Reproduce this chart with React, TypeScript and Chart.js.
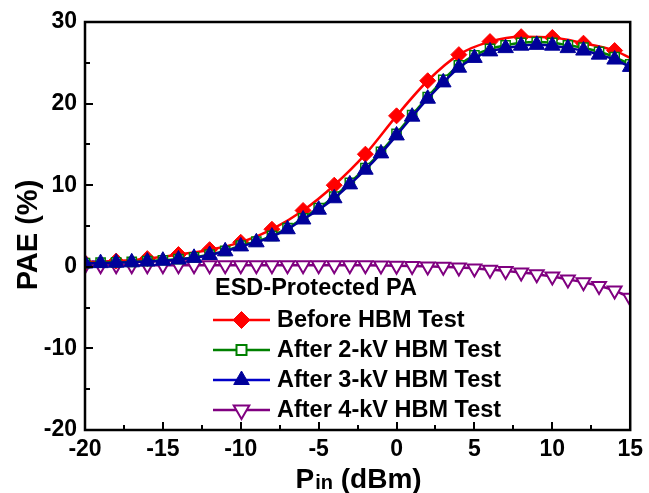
import React, { useEffect, useRef } from 'react';
import { Chart, registerables } from 'chart.js';

Chart.register(...registerables);

// Input power (dBm) for the densely sampled series
const pinDbm = [-20, -19, -18, -17, -16, -15, -14, -13, -12, -11, -10, -9, -8, -7, -6, -5, -4, -3, -2, -1, 0, 1, 2, 3, 4, 5, 6, 7, 8, 9, 10, 11, 12, 13, 14, 15];
// Input power for the "Before" series (markers every 2 dBm, line continues to 15)
const beforePin = [-20, -18, -16, -14, -12, -10, -8, -6, -4, -2, 0, 2, 4, 6, 8, 10, 12, 14, 15];

const beforeHbm = [0.5, 0.7, 1.0, 1.5, 2.1, 3.0, 4.6, 6.9, 10.0, 13.8, 18.5, 22.8, 26.0, 27.6, 28.2, 28.1, 27.4, 26.5, 25.6];
const after2kV = [0.45, 0.5, 0.55, 0.6, 0.7, 0.8, 0.95, 1.15, 1.5, 1.95, 2.6, 3.1, 3.8, 4.75, 5.95, 7.2, 8.6, 10.3, 12.1, 14.1, 16.3, 18.6, 20.8, 22.9, 24.7, 25.9, 26.7, 27.15, 27.45, 27.55, 27.45, 27.15, 26.85, 26.35, 25.7, 24.8];
const after3kV = [0.4, 0.45, 0.5, 0.55, 0.65, 0.75, 0.9, 1.1, 1.45, 1.9, 2.5, 3.0, 3.7, 4.6, 5.8, 7.0, 8.4, 10.1, 11.9, 13.9, 16.1, 18.4, 20.6, 22.6, 24.4, 25.6, 26.4, 26.8, 27.1, 27.2, 27.1, 26.8, 26.5, 26.0, 25.4, 24.5];
const after4kV = [0.15, 0.2, 0.2, 0.2, 0.2, 0.2, 0.2, 0.2, 0.2, 0.2, 0.2, 0.2, 0.2, 0.2, 0.2, 0.2, 0.2, 0.2, 0.18, 0.16, 0.14, 0.1, 0.05, 0.0, -0.1, -0.2, -0.35, -0.5, -0.7, -0.9, -1.2, -1.55, -1.9, -2.35, -2.9, -3.8];

const seriesNames = ['Before HBM Test', 'After 2-kV HBM Test', 'After 3-kV HBM Test', 'After 4-kV HBM Test'];
const legendTitle = 'ESD-Protected PA';
const yTitle = 'PAE (%)';
const xTitleMain = 'P';
const xTitleSub = 'in';
const xTitleUnit = ' (dBm)';

const X_MIN = -20, X_MAX = 15, X_STEP = 5;
const Y_MIN = -20, Y_MAX = 30, Y_STEP = 10;

const FONT = '"Liberation Sans", Arial, Helvetica, sans-serif';

const RED = '#ff0000';
const GREEN = '#008000';
const BLUE_LINE = '#0000c8';
const BLUE_FILL = '#00009a';
const PURPLE = '#800080';

type Shape = 'diamond' | 'square' | 'triangle' | 'down';

function drawMarker(ctx: CanvasRenderingContext2D, shape: Shape, x: number, y: number, r: number, fill: string, stroke: string, lw: number) {
  ctx.save();
  ctx.beginPath();
  if (shape === 'diamond') {
    ctx.moveTo(x - r, y); ctx.lineTo(x, y - r); ctx.lineTo(x + r, y); ctx.lineTo(x, y + r);
  } else if (shape === 'square') {
    ctx.rect(x - r, y - r, 2 * r, 2 * r);
  } else if (shape === 'triangle') {
    ctx.moveTo(x, y - r); ctx.lineTo(x + r * 0.866, y + r / 2); ctx.lineTo(x - r * 0.866, y + r / 2);
  } else {
    ctx.moveTo(x, y + r); ctx.lineTo(x + r * 0.866, y - r / 2); ctx.lineTo(x - r * 0.866, y - r / 2);
  }
  ctx.closePath();
  ctx.fillStyle = fill;
  ctx.fill();
  ctx.lineWidth = lw;
  ctx.strokeStyle = stroke;
  ctx.stroke();
  ctx.restore();
}

const framePlugin = {
  id: 'framePlugin',
  afterDatasetsDraw(chart: any) {
    const { ctx, chartArea: a, scales } = chart;
    const xs = scales.x, ys = scales.y;
    ctx.save();
    // inward tick marks on bottom and left axes
    ctx.strokeStyle = '#000';
    ctx.lineWidth = 2;
    const nx = Math.round((X_MAX - X_MIN) / (X_STEP / 2));
    for (let i = 0; i <= nx; i++) {
      const v = X_MIN + i * (X_STEP / 2);
      const px = Math.round(xs.getPixelForValue(v));
      const len = i % 2 === 0 ? 8 : 5;
      ctx.beginPath(); ctx.moveTo(px, a.bottom); ctx.lineTo(px, a.bottom - len); ctx.stroke();
    }
    const ny = Math.round((Y_MAX - Y_MIN) / (Y_STEP / 2));
    for (let i = 0; i <= ny; i++) {
      const v = Y_MIN + i * (Y_STEP / 2);
      const py = Math.round(ys.getPixelForValue(v));
      const len = i % 2 === 0 ? 8 : 5;
      ctx.beginPath(); ctx.moveTo(a.left, py); ctx.lineTo(a.left + len, py); ctx.stroke();
    }
    // frame
    ctx.lineWidth = 2.5;
    ctx.strokeRect(a.left, a.top, a.right - a.left, a.bottom - a.top);

    // axis titles
    ctx.fillStyle = '#000';
    ctx.font = `bold 29px ${FONT}`;
    ctx.textAlign = 'center';
    ctx.textBaseline = 'middle';
    ctx.save();
    ctx.translate(29, (a.top + a.bottom) / 2 + 9);
    ctx.rotate(-Math.PI / 2);
    ctx.fillText(yTitle, 0, 0);
    ctx.restore();

    ctx.textBaseline = 'alphabetic';
    ctx.textAlign = 'left';
    const bigFont = `bold 28px ${FONT}`;
    const smallFont = `bold 20px ${FONT}`;
    ctx.font = bigFont; const wP = ctx.measureText(xTitleMain).width; const wU = ctx.measureText(xTitleUnit).width;
    ctx.font = smallFont; const wS = ctx.measureText(xTitleSub).width;
    const total = wP + wS + 1 + wU;
    let tx = (a.left + a.right) / 2 + 1 - total / 2;
    const base = a.bottom + 58;
    ctx.font = bigFont; ctx.fillText(xTitleMain, tx, base); tx += wP + 1;
    ctx.font = smallFont; ctx.fillText(xTitleSub, tx, base + 1); tx += wS;
    ctx.font = bigFont; ctx.fillText(xTitleUnit, tx, base);

    // legend
    const lx = a.left + 128;
    ctx.font = `bold 23.5px ${FONT}`;
    ctx.textBaseline = 'middle';
    ctx.fillText(legendTitle, lx + 2, a.bottom - 141);
    const styles: { color: string; shape: Shape; r: number; fill: string; mcolor: string; lw: number }[] = [
      { color: RED, shape: 'diamond', r: 8.5, fill: RED, mcolor: RED, lw: 1 },
      { color: GREEN, shape: 'square', r: 5, fill: '#fff', mcolor: GREEN, lw: 2 },
      { color: BLUE_LINE, shape: 'triangle', r: 9, fill: BLUE_FILL, mcolor: BLUE_FILL, lw: 1 },
      { color: PURPLE, shape: 'down', r: 9, fill: '#fff', mcolor: PURPLE, lw: 2 },
    ];
    seriesNames.forEach((name, i) => {
      const y = a.bottom - 110 + i * 30;
      const s = styles[i];
      ctx.strokeStyle = s.color;
      ctx.lineWidth = 2.5;
      ctx.beginPath(); ctx.moveTo(lx, y); ctx.lineTo(lx + 57, y); ctx.stroke();
      drawMarker(ctx, s.shape, lx + 28.5, y, s.r, s.fill, s.mcolor, s.lw);
      ctx.fillStyle = '#000';
      ctx.font = `bold 23.5px ${FONT}`;
      ctx.textBaseline = 'middle';
      ctx.textAlign = 'left';
      ctx.fillText(name, lx + 64, y + 1);
    });
    ctx.restore();
  },
};

export default function App() {
  const ref = useRef<HTMLCanvasElement | null>(null);
  useEffect(() => {
    if (!ref.current) return;
    const toPts = (xs: number[], ys: number[]) => xs.map((x, i) => ({ x, y: ys[i] }));
    const chart = new Chart(ref.current, {
      type: 'line',
      data: {
        datasets: [
          {
            label: seriesNames[0],
            data: toPts(beforePin, beforeHbm),
            borderColor: RED,
            backgroundColor: RED,
            borderWidth: 2.5,
            pointStyle: 'rectRot',
            pointRadius: (c: any) => (c.raw && c.raw.x === X_MAX ? 0 : 8),
            pointBorderWidth: 1,
            pointBackgroundColor: RED,
            pointBorderColor: RED,
            cubicInterpolationMode: 'monotone',
            order: 3,
          },
          {
            label: seriesNames[1],
            data: toPts(pinDbm, after2kV),
            borderColor: GREEN,
            borderWidth: 2.5,
            pointStyle: 'rect',
            pointRadius: 6.5,
            pointBorderWidth: 1.5,
            pointBackgroundColor: '#fff',
            pointBorderColor: GREEN,
            cubicInterpolationMode: 'monotone',
            order: 2,
          },
          {
            label: seriesNames[2],
            data: toPts(pinDbm, after3kV),
            borderColor: BLUE_FILL,
            borderWidth: 2.5,
            pointStyle: 'triangle',
            pointRadius: 9,
            pointBorderWidth: 1,
            pointBackgroundColor: BLUE_FILL,
            pointBorderColor: BLUE_FILL,
            cubicInterpolationMode: 'monotone',
            order: 1,
          },
          {
            label: seriesNames[3],
            data: toPts(pinDbm, after4kV),
            borderColor: PURPLE,
            borderWidth: 2.5,
            pointStyle: 'triangle',
            rotation: 180,
            pointRotation: 180,
            pointRadius: 8,
            pointBorderWidth: 2,
            pointBackgroundColor: '#fff',
            pointBorderColor: PURPLE,
            cubicInterpolationMode: 'monotone',
            order: 4,
          },
        ] as any,
      },
      options: {
        animation: false,
        responsive: false,
        devicePixelRatio: 1,
        layout: { padding: { top: 22, right: 16, left: 0, bottom: 0 } },
        plugins: { legend: { display: false }, tooltip: { enabled: false } },
        scales: {
          x: {
            type: 'linear',
            min: X_MIN,
            max: X_MAX,
            grid: { display: false, drawTicks: false },
            border: { display: false },
            ticks: {
              stepSize: X_STEP,
              color: '#000',
              font: { family: FONT, size: 23, weight: 'bold' },
              padding: 6,
              maxRotation: 0,
              autoSkip: false,
              callback: (v: any) => String(v),
            },
            afterFit: (s: any) => { s.height = 63; },
          },
          y: {
            type: 'linear',
            min: Y_MIN,
            max: Y_MAX,
            grid: { display: false, drawTicks: false },
            border: { display: false },
            ticks: {
              stepSize: Y_STEP,
              color: '#000',
              font: { family: FONT, size: 23, weight: 'bold' },
              padding: 8,
              autoSkip: false,
              callback: (v: any) => String(v),
            },
            afterFit: (s: any) => { s.width = 85; },
          },
        },
      } as any,
      plugins: [framePlugin],
    });
    return () => chart.destroy();
  }, []);
  return (
    <div style={{ position: 'fixed', left: 0, top: 0, width: 649, height: 493, background: '#fff' }}>
      <canvas ref={ref} width={649} height={493} style={{ display: 'block', width: 649, height: 493 }} />
    </div>
  );
}
